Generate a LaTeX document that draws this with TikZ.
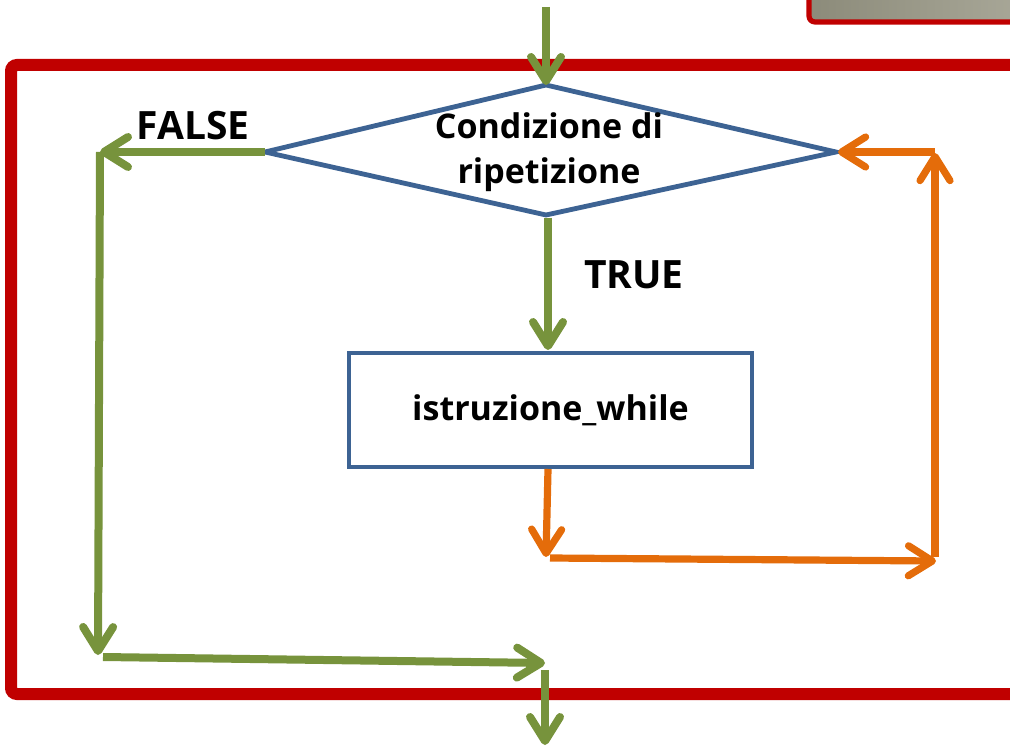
\documentclass[tikz,border=0pt]{standalone}
\usepackage{fontspec}
\setmainfont{Open Sans}
\usetikzlibrary{arrows.meta}
\definecolor{flowgreen}{HTML}{77933C}
\definecolor{looporange}{HTML}{E46C0A}
\definecolor{shapeblue}{HTML}{3D6393}
\definecolor{framered}{HTML}{C00000}
\definecolor{panelgrayA}{HTML}{8C8B7A}
\definecolor{panelgrayB}{HTML}{ADAC9D}
\tikzset{
  barb/.style={-{Straight Barb[length=12pt,width=15pt,round]}},
  greenflow/.style={draw=flowgreen, line width=4pt, barb},
  orangeflow/.style={draw=looporange, line width=3.6pt, barb},
  flowtext/.style={font=\bfseries\fontsize{17}{22.5}\selectfont, text=black},
  branchtext/.style={font=\bfseries\fontsize{19.5}{22}\selectfont, text=black},
  blockbox/.style={draw=shapeblue, line width=2.4pt, fill=white, minimum width=201.5pt,
    minimum height=57pt, inner sep=0pt},
}
\begin{document}
\begin{tikzpicture}[x=0.5pt,y=-0.5pt]
\useasboundingbox (0,0) rectangle (1010,748);
\clip (0,0) rectangle (1010,748);

% panel corner at the top right
\shade[left color=panelgrayA, right color=panelgrayB, rounded corners=3pt]
  (809,-30) rectangle (1060,22);
\draw[framered, line width=2.6pt, rounded corners=3pt] (809,-30) rectangle (1060,22);

% outer block frame
\draw[framered, line width=6pt, rounded corners=3pt] (11,65) rectangle (1060,694);

% decision diamond
\coordinate (dL) at (265,152);
\coordinate (dT) at (546,85);
\coordinate (dR) at (836,152);
\coordinate (dB) at (546,215);
\draw[shapeblue, line width=2.4pt, line join=miter, fill=white] (dL) -- (dT) -- (dR) -- (dB) -- cycle;
\node[flowtext, align=center] (cond) at (549,152) {Condizione di\\ripetizione};

% loop body
\node[blockbox, flowtext] (body) at (550.5,410) {istruzione\_while};

% connector points
\coordinate (entry) at (546,7);
\coordinate (falseA) at (100,152);
\coordinate (falseB) at (98,655);
\coordinate (joinL) at (103,657);
\coordinate (joinR) at (545,663);
\coordinate (exitA) at (545,670);
\coordinate (exitB) at (545,745);
\coordinate (trueA) at (548,218);
\coordinate (trueB) at (548,350);
\coordinate (loopA) at (548,469);
\coordinate (loopB) at (546,557);
\coordinate (loopC) at (550,558);
\coordinate (loopD) at (936,561);
\coordinate (loopE) at (935,557);
\coordinate (loopF) at (935,153);
\coordinate (loopG) at (935,152);
\coordinate (loopH) at (838,152);

% green flow
\draw[greenflow] (entry) -- (dT);
\draw[greenflow] (dL) -- (falseA);
\draw[greenflow] (falseA) -- (falseB);
\draw[greenflow] (joinL) -- (joinR);
\draw[greenflow] (exitA) -- (exitB);
\draw[greenflow] (trueA) -- (trueB);

% orange loop back
\draw[orangeflow] (loopA) -- (loopB);
\draw[orangeflow] (loopC) -- (loopD);
\draw[orangeflow] (loopE) -- (loopF);
\draw[orangeflow] (loopG) -- (loopH);

% branch labels
\node[branchtext] (flab) at (193,126) {FALSE};
\node[branchtext] (tlab) at (634,275) {TRUE};
\end{tikzpicture}
\end{document}
